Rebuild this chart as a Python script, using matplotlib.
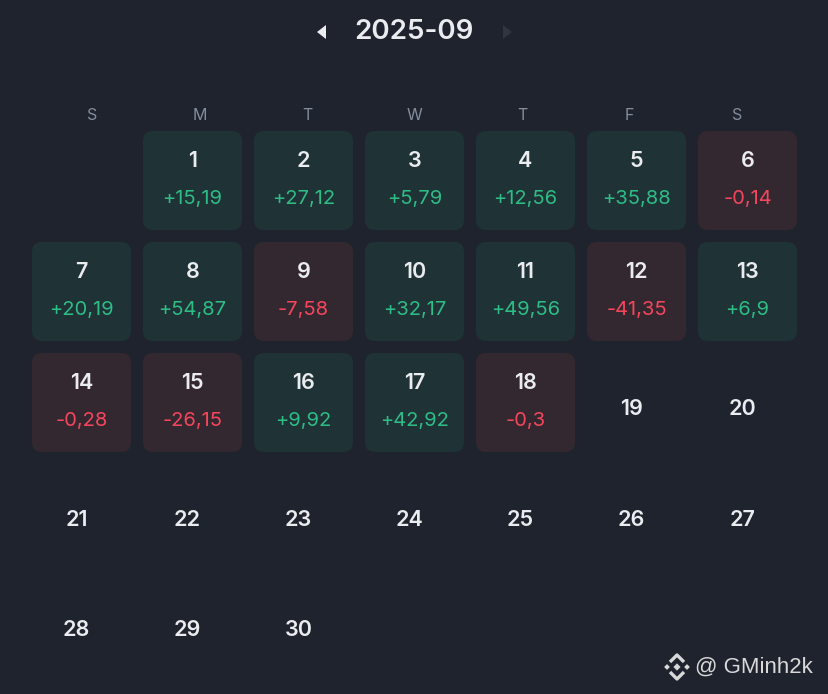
import matplotlib.pyplot as plt
from matplotlib.patches import FancyBboxPatch, Polygon

# data
month_title = "2025-09"
weekdays = ["S", "M", "T", "W", "T", "F", "S"]
first_weekday = 1          # Sept 1 2025 is a Monday
n_days = 30
pnl_days = [1, 2, 3, 4, 5, 6, 7, 8, 9, 10, 11, 12, 13, 14, 15, 16, 17, 18]
pnl_values = [15.19, 27.12, 5.79, 12.56, 35.88, -0.14, 20.19, 54.87, -7.58,
              32.17, 49.56, -41.35, 6.9, -0.28, -26.15, 9.92, 42.92, -0.3]
pnl_labels = ["+15,19", "+27,12", "+5,79", "+12,56", "+35,88", "-0,14",
              "+20,19", "+54,87", "-7,58", "+32,17", "+49,56", "-41,35",
              "+6,9", "-0,28", "-26,15", "+9,92", "+42,92", "-0,3"]

BG = "#1e232e"
GREEN_BG = "#1f3236"
RED_BG = "#332830"
GREEN = "#2ebd85"
RED = "#f6465d"
WHITE = "#eaecef"
GREY = "#848e9c"
FONT = ["Inter", "DejaVu Sans"]

fig = plt.figure(figsize=(8.29, 6.94), dpi=100, facecolor=BG)
ax = fig.add_axes([0, 0, 1, 1])
ax.set_xlim(0, 829)
ax.set_ylim(694, 0)
ax.axis("off")
ax.set_facecolor(BG)

# header
ax.text(414, 32, month_title, color=WHITE, fontsize=20, ha="center", va="center",
        family=FONT, fontweight="semibold")
ax.add_patch(Polygon([[326, 25], [326, 39], [317, 32]], closed=True, color=WHITE, lw=0))
ax.add_patch(Polygon([[503, 25], [503, 39], [512, 32]], closed=True, color="#2f3642", lw=0))

# weekday labels
for i, w in enumerate(weekdays):
    ax.text(92 + i * 107.5, 115, w, color=GREY, fontsize=11.5, ha="center", va="center",
            family=FONT)

pitch = 111
cell = 99
x0 = 32
y0 = 131
values = dict(zip(pnl_days, zip(pnl_values, pnl_labels)))

for day in range(1, n_days + 1):
    idx = first_weekday + day - 1
    col, row = idx % 7, idx // 7
    left = x0 + col * pitch
    top = y0 + row * pitch
    cx = left + cell / 2
    cy = top + cell / 2
    if day in values:
        v, lab = values[day]
        pos = v >= 0
        ax.add_patch(FancyBboxPatch((left + 10, top + 10), cell - 20, cell - 20,
                                    boxstyle="round,pad=10",
                                    fc=GREEN_BG if pos else RED_BG, ec="none"))
        ax.text(cx, cy - 20, str(day), color=WHITE, fontsize=15.5, ha="center",
                va="center", family=FONT, fontweight="semibold")
        ax.text(cx, cy + 18, lab, color=GREEN if pos else RED, fontsize=14.5,
                ha="center", va="center", family=FONT)
    else:
        ax.text(cx - 5, cy + 6, str(day), color=WHITE, fontsize=15.5, ha="center",
                va="center", family=FONT, fontweight="semibold")

# watermark
lx, ly = 677, 667
s = 3.6
for dx, dy, r in [(0, 0, 1.0), (-10, 0, 0.8), (10, 0, 0.8)]:
    ax.add_patch(Polygon([[lx + dx - r * s, ly + dy], [lx + dx, ly + dy - r * s],
                          [lx + dx + r * s, ly + dy], [lx + dx, ly + dy + r * s]],
                         closed=True, color="#d9d9d9", lw=0))
for sign in (-1, 1):
    ax.plot([lx - 7, lx, lx + 7], [ly + sign * 5, ly + sign * 12, ly + sign * 5],
            color="#d9d9d9", lw=2.4, solid_capstyle="butt")
ax.text(695, 667, "@ GMinh2k", color="#d9d9d9", fontsize=16, ha="left", va="center",
        family=["Liberation Sans", "DejaVu Sans"])

fig.savefig("out.png", dpi=100, facecolor=BG)
